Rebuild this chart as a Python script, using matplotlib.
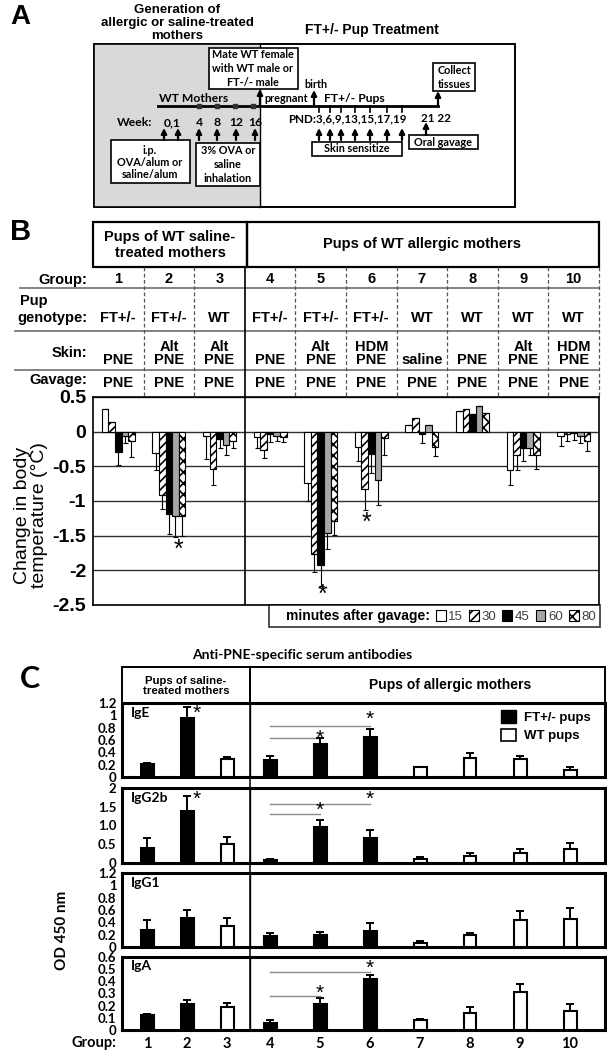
import matplotlib
matplotlib.use('Agg')
import matplotlib.pyplot as plt
import numpy as np
from matplotlib.patches import Rectangle, Patch
from matplotlib.transforms import blended_transform_factory

# ---------------- data ----------------
week_labels = ['0,1', '4', '8', '12', '16']
pnd_text = 'PND:3,6,9,13,15,17,19'
groups = ['1', '2', '3', '4', '5', '6', '7', '8', '9', '10']
genotype = ['FT+/-', 'FT+/-', 'WT', 'FT+/-', 'FT+/-', 'FT+/-', 'WT', 'WT', 'WT', 'WT']
skin = ['PNE', 'Alt\nPNE', 'Alt\nPNE', 'PNE', 'Alt\nPNE', 'HDM\nPNE', 'saline', 'PNE', 'Alt\nPNE', 'HDM\nPNE']
gavage = ['PNE'] * 10
minutes = ['15', '30', '45', '60', '80']

# change in body temperature (deg C) per group, for each time after gavage
temp_15 = [0.33, -0.31, -0.06, -0.07, -0.74, -0.22, 0.10, 0.30, -0.55, -0.06]
temp_30 = [0.14, -0.91, -0.54, -0.26, -1.77, -0.83, 0.20, 0.33, -0.33, -0.03]
temp_45 = [-0.30, -1.19, -0.10, -0.03, -1.93, -0.32, -0.03, 0.25, -0.23, -0.02]
temp_60 = [-0.06, -1.22, -0.19, -0.06, -1.46, -0.69, 0.09, 0.37, -0.23, -0.06]
temp_80 = [-0.14, -1.21, -0.13, -0.07, -1.29, -0.09, -0.22, 0.27, -0.33, -0.13]
err_15 = [0.00, 0.24, 0.34, 0.16, 0.26, 0.20, 0.00, 0.00, 0.22, 0.14]
err_30 = [0.00, 0.21, 0.23, 0.12, 0.26, 0.30, 0.00, 0.00, 0.22, 0.10]
err_45 = [0.18, 0.28, 0.13, 0.12, 0.30, 0.28, 0.13, 0.00, 0.19, 0.10]
err_60 = [0.10, 0.30, 0.14, 0.08, 0.23, 0.37, 0.00, 0.00, 0.10, 0.10]
err_80 = [0.22, 0.29, 0.10, 0.08, 0.20, 0.24, 0.13, 0.00, 0.21, 0.15]
temp_star_groups = [2, 5, 6]
temp_star_y = [-1.70, -2.35, -1.32]
temp_ticks = [0.5, 0, -0.5, -1, -1.5, -2, -2.5]

# anti-PNE serum antibodies (OD 450 nm)
ige = [0.21, 0.96, 0.29, 0.28, 0.53, 0.65, 0.16, 0.31, 0.29, 0.11]
ige_err = [0.02, 0.17, 0.04, 0.06, 0.10, 0.13, 0.01, 0.08, 0.05, 0.05]
igg2b = [0.40, 1.39, 0.51, 0.08, 0.96, 0.67, 0.10, 0.19, 0.27, 0.37]
igg2b_err = [0.27, 0.40, 0.19, 0.03, 0.19, 0.21, 0.07, 0.08, 0.10, 0.16]
igg1 = [0.27, 0.47, 0.34, 0.18, 0.19, 0.26, 0.07, 0.20, 0.44, 0.46]
igg1_err = [0.16, 0.13, 0.13, 0.04, 0.06, 0.13, 0.03, 0.03, 0.15, 0.18]
iga = [0.12, 0.21, 0.19, 0.06, 0.21, 0.42, 0.08, 0.14, 0.31, 0.16]
iga_err = [0.01, 0.04, 0.03, 0.02, 0.05, 0.03, 0.01, 0.05, 0.07, 0.05]
ige_ticks = [0, 0.2, 0.4, 0.6, 0.8, 1, 1.2]
ige_ticklabels = ['0', '0.2', '0.4', '0.6', '0.8', '1', '1.2']
igg2b_ticks = [0, 0.5, 1.0, 1.5, 2]
igg2b_ticklabels = ['0', '0.5', '1.0', '1.5', '2']
iga_ticks = [0, 0.1, 0.2, 0.3, 0.4, 0.5, 0.6]
iga_ticklabels = ['0', '0.1', '0.2', '0.3', '0.4', '0.5', '0.6']
# significance: (end group, line level, star level); start group is 4
ige_sig = [(5, 0.63, 0.62), (6, 0.83, 0.93)]
igg2b_sig = [(5, 1.31, 1.40), (6, 1.57, 1.70)]
iga_sig = [(5, 0.28, 0.30), (6, 0.48, 0.51)]
ige_star2 = 1.04
igg2b_star2 = 1.70

# ---------------- layout ----------------
W, H = 607, 1050
ARIAL = 'Liberation Sans'
CAL = 'Lato'
plt.rcParams['hatch.linewidth'] = 1.2

fig = plt.figure(figsize=(W / 100, H / 100), dpi=100)


def px_rect(x0, y0, x1, y1):
    return [x0 / W, 1 - y1 / H, (x1 - x0) / W, (y1 - y0) / H]


# ================= Panel B chart =================
axB = fig.add_axes(px_rect(93, 397, 599, 605))
axB.set_xlim(0.5, 10.5)
axB.set_ylim(-2.5, 0.5)
temps = [temp_15, temp_30, temp_45, temp_60, temp_80]
errs = [err_15, err_30, err_45, err_60, err_80]
styles = [dict(color='white', edgecolor='black'),
          dict(color='white', edgecolor='black', hatch='////'),
          dict(color='black', edgecolor='black'),
          dict(color='#a6a6a6', edgecolor='black'),
          dict(color='white', edgecolor='black', hatch='xxx')]
xg = np.arange(1, 11)
bw = 0.13
for yv in temp_ticks:
    axB.axhline(yv, color='#303030', lw=1.0, zorder=1)
axB.axvline(3.5, color='black', lw=1.2, zorder=1)
for k in range(5):
    v = np.array(temps[k])
    e = np.array(errs[k])
    x = xg + (k - 2) * bw
    axB.bar(x, v, width=bw, linewidth=0.8, zorder=3, **styles[k])
    lo = np.where(v < 0, e, 0)
    hi = np.where(v >= 0, e, 0)
    axB.errorbar(x, v, yerr=[lo, hi], fmt='none', ecolor='black',
                 elinewidth=0.8, capsize=1.8, capthick=0.8, zorder=4)
star_off = {2: 0.18, 5: 0.03, 6: -0.1}
for g, ys in zip(temp_star_groups, temp_star_y):
    axB.text(g + star_off[g], ys, '*', ha='center', va='center',
             fontsize=18, family=ARIAL)
axB.set_yticks(temp_ticks)
axB.set_yticklabels([f'{t:g}' for t in temp_ticks], fontsize=14,
                    fontweight='bold', family=ARIAL)
axB.tick_params(axis='y', length=0, pad=5)
axB.set_xticks([])
for s in axB.spines.values():
    s.set_linewidth(1.2)

handles = [Patch(visible=False)] + [Patch(facecolor=st['color'], edgecolor='black',
                                          hatch=st.get('hatch'), lw=0.8) for st in styles]
leg = fig.legend(handles, ['minutes after gavage:'] + minutes, ncol=6,
                 loc='upper right', bbox_to_anchor=(600 / W, 1 - 605 / H),
                 frameon=True, fancybox=False, handlelength=0.75, handleheight=0.85,
                 handletextpad=0.2, columnspacing=0.45, borderpad=0.3,
                 borderaxespad=0, prop={'family': ARIAL, 'size': 9.5})
leg.get_frame().set_edgecolor('black')
leg.get_frame().set_linewidth(1.2)
for i, t in enumerate(leg.get_texts()):
    if i == 0:
        t.set_fontweight('bold')
        t.set_fontsize(10)
    else:
        t.set_color('#404040')

fig.text(31 / W, 1 - 515 / H, 'Change in body\ntemperature (°C)', rotation=90,
         ha='center', va='center', fontsize=14, family=ARIAL, linespacing=1.0)

# ================= Panel C =================
c_rows = [
    (ige, ige_err, 'IgE', 1.2, ige_ticks, ige_ticklabels, 703, 777, ige_sig, ige_star2),
    (igg2b, igg2b_err, 'IgG2b', 2.0, igg2b_ticks, igg2b_ticklabels, 788, 863, igg2b_sig, igg2b_star2),
    (igg1, igg1_err, 'IgG1', 1.2, ige_ticks, ige_ticklabels, 873, 947, [], None),
    (iga, iga_err, 'IgA', 0.6, iga_ticks, iga_ticklabels, 957, 1030, iga_sig, None),
]
bar_colors = ['black' if g == 'FT+/-' else 'white' for g in genotype]
xpos = np.arange(1, 11)
for ri, (vals, verr, name, ymax, ticks, tlabels, top, bot, sig, star2) in enumerate(c_rows):
    axL = fig.add_axes(px_rect(122, top, 250, bot))
    axR = fig.add_axes(px_rect(250, top, 605, bot))
    axL.set_xlim(0.375, 3.575)
    axR.set_xlim(3.6, 10.7)
    for ax, sl, wbar in ((axL, slice(0, 3), 13 / 40), (axR, slice(3, 10), 13 / 50)):
        ax.set_facecolor('none')
        ax.set_ylim(0, ymax)
        xv = xpos[sl]
        vv = np.array(vals[sl])
        ee = np.array(verr[sl])
        ax.bar(xv, vv, width=wbar, color=bar_colors[sl], edgecolor='black',
               linewidth=1.5, zorder=3)
        ax.errorbar(xv, vv, yerr=[np.zeros_like(ee), ee], fmt='none', ecolor='black',
                    elinewidth=1.4, capsize=3.2, capthick=1.4, zorder=2)
        ax.tick_params(length=0)
        for s in ax.spines.values():
            s.set_linewidth(2.2)
        ax.set_xticks([])
    axL.spines['right'].set_linewidth(1.0)
    axR.spines['left'].set_visible(False)
    axR.set_yticks([])
    axL.set_yticks(ticks)
    axL.set_yticklabels(tlabels, fontsize=9.5, fontweight='bold', family=CAL)
    axL.tick_params(axis='y', pad=4)
    axL.text(0.07, 0.87, name, transform=axL.transAxes, ha='left', va='center',
             fontsize=10, fontweight='bold', family=CAL)
    for (g_end, ly, sy) in sig:
        axR.plot([4, g_end], [ly, ly], color='#8c8c8c', lw=1.0, zorder=1)
        axR.text(g_end, sy, '*', ha='center', va='center', fontsize=15, family=ARIAL)
    if star2 is not None:
        axL.text(2.24, star2, '*', ha='center', va='center', fontsize=15, family=ARIAL)
    if ri == 0:
        lg = axR.legend([Patch(facecolor='black', edgecolor='black'),
                         Patch(facecolor='white', edgecolor='black', lw=1.2)],
                        ['FT+/- pups', 'WT pups'], loc='upper left',
                        bbox_to_anchor=(492 / W, 1 - 701 / H),
                        bbox_transform=fig.transFigure, frameon=False,
                        handlelength=1.1, handleheight=1.1, labelspacing=0.35,
                        handletextpad=0.6, borderpad=0.2,
                        prop={'family': ARIAL, 'size': 9.5, 'weight': 'bold'})
    if ri == 3:
        for ax, sl in ((axL, slice(0, 3)), (axR, slice(3, 10))):
            ax.set_xticks(xpos[sl])
            ax.set_xticklabels(groups[sl], fontsize=10.5, fontweight='bold', family=CAL)
            ax.tick_params(axis='x', length=0, pad=5)

fig.text(62 / W, 1 - 930 / H, 'OD 450 nm', rotation=90, ha='center', va='center',
         fontsize=11, fontweight='bold', family=CAL)
fig.text(116 / W, 1 - 1043 / H, 'Group:', ha='right', va='center',
         fontsize=10.5, fontweight='bold', family=CAL)

# ================= Overlay: panel A, table of B, headers of C =================
ov = fig.add_axes([0, 0, 1, 1])
ov.set_xlim(0, W)
ov.set_ylim(H, 0)
ov.axis('off')


def box(x0, y0, x1, y1, lw=1.2, fc='white', ec='black', z=2):
    ov.add_patch(Rectangle((x0, y0), x1 - x0, y1 - y0, facecolor=fc, edgecolor=ec,
                           lw=lw, zorder=z))


def arrow(x, y0, y1, lw=1.6):
    ov.annotate('', xy=(x, y1), xytext=(x, y0),
                arrowprops=dict(arrowstyle='-|>', lw=lw, color='black',
                                mutation_scale=8, shrinkA=0, shrinkB=0), zorder=4)


def txt(x, y, s, size=7.8, fam=CAL, ha='center', va='center', weight='bold', **kw):
    ov.text(x, y, s, fontsize=size, family=fam, ha=ha, va=va, fontweight=weight,
            zorder=5, **kw)


# ---- Panel A ----
txt(10, 17, 'A', size=20, fam=ARIAL, ha='left')
txt(177, 23, 'Generation of\nallergic or saline-treated\nmothers', size=9.5, fam=ARIAL,
    linespacing=1.12)
txt(372, 30, 'FT+/- Pup Treatment', size=10, fam=ARIAL)
box(94, 44, 515, 207, fc='white', z=1)
box(94, 44, 260, 207, fc='#d9d9d9', ec='none', lw=0, z=1)
ov.plot([260, 260], [44, 207], color='black', lw=1.0, zorder=1.5)
box(94, 44, 515, 207, fc='none', z=1.6)
box(209, 48, 298, 89)
txt(253, 55, 'Mate WT female')
txt(253, 68.5, 'with WT male or')
txt(253, 82, 'FT-/- male')
arrow(260, 106, 89)
ov.plot([158, 438], [106, 106], color='black', lw=2.0, zorder=3)
txt(159, 98, 'WT Mothers', size=8.7, ha='left')
txt(264, 99, 'pregnant', size=7.8, ha='left')
ov.plot([199, 217, 235, 253], [106] * 4, 's', color='#303030', ms=3, zorder=3)
txt(117, 123, 'Week:', size=8.7, ha='left')
for xw, lab in zip([172, 199, 217, 236, 255], week_labels):
    txt(xw, 123, lab, size=8.7)
for xa in [164, 178, 199, 217, 236, 255]:
    arrow(xa, 140, 128)
box(111, 140, 190, 183)
txt(150, 150, 'i.p.')
txt(150, 162.5, 'OVA/alum or')
txt(150, 175, 'saline/alum')
box(196, 143, 260, 186)
txt(228, 151, '3% OVA or')
txt(228, 165, 'saline')
txt(228, 179, 'inhalation')
txt(304, 84, 'birth', size=7.8, ha='left')
arrow(314, 106, 90)
txt(324, 98, 'FT+/- Pups', size=8.7, ha='left')
pnd_x = [319, 330, 341, 355, 370, 387, 402]
for xp in pnd_x:
    ov.plot([xp, xp], [106, 112], color='black', lw=1.2, zorder=3)
    arrow(xp, 140, 128)
txt(288, 119, pnd_text, size=8.4, ha='left')
txt(421, 119, '21 22', size=8.4, ha='left')
box(312, 142, 402, 156)
txt(357, 149, 'Skin sensitize')
box(409, 135, 478, 149)
txt(443, 142, 'Oral gavage')
arrow(426, 135, 122)
box(433, 63, 475, 91)
txt(454, 70, 'Collect')
txt(454, 84, 'tissues')
arrow(438, 106, 91)

# ---- Panel B table ----
txt(10, 232, 'B', size=21, fam=ARIAL, ha='left')
box(93, 222, 247, 267, lw=1.6, fc='none')
box(247, 222, 599, 267, lw=1.6, fc='none')
txt(170, 245, 'Pups of WT saline-\ntreated mothers', size=10.5, fam=ARIAL, linespacing=1.1)
txt(422, 244, 'Pups of WT allergic mothers', size=10.5, fam=ARIAL)
for yl, x0 in ((288, 20), (331, 15), (370, 15)):
    ov.plot([x0, 599], [yl, yl], color='#7a7a7a', lw=1.3, zorder=2)
tB = blended_transform_factory(axB.transData, ov.transData)
for i in range(10):
    xb = i + 1.5
    if xb == 3.5:
        ov.plot([xb, xb], [267, 397], color='black', lw=1.2, transform=tB, zorder=2)
    else:
        ov.plot([xb, xb], [267, 397], color='#555555', lw=0.9, ls=(0, (3, 2)),
                transform=tB, zorder=2)
for i in range(10):
    g = i + 1
    ov.text(g, 279, groups[i], transform=tB, ha='center', va='center', fontsize=10.5,
            family=ARIAL, fontweight='bold')
    ov.text(g, 318, genotype[i], transform=tB, ha='center', va='center', fontsize=10.5,
            family=ARIAL, fontweight='bold')
    ov.text(g, 367, skin[i], transform=tB, ha='center', va='bottom', fontsize=10.5,
            family=ARIAL, fontweight='bold', linespacing=0.95)
    ov.text(g, 383, gavage[i], transform=tB, ha='center', va='center', fontsize=10.5,
            family=ARIAL, fontweight='bold')
txt(87, 280, 'Group:', size=10.5, fam=ARIAL, ha='right')
txt(20, 301, 'Pup', size=10.5, fam=ARIAL, ha='left')
txt(87, 318, 'genotype:', size=10.5, fam=ARIAL, ha='right')
txt(87, 353, 'Skin:', size=10.5, fam=ARIAL, ha='right')
txt(87, 380, 'Gavage:', size=10.5, fam=ARIAL, ha='right')

# ---- Panel C headers ----
txt(20, 679, 'C', size=22, fam=CAL, ha='left')
txt(302, 655, 'Anti-PNE-specific serum antibodies', size=10, fam=CAL)
box(122, 667, 250, 703, lw=1.4, fc='none')
box(250, 667, 605, 703, lw=1.4, fc='none')
txt(186, 686, 'Pups of saline-\ntreated mothers', size=8.2, fam=ARIAL, linespacing=1.1)
txt(450, 685, 'Pups of allergic mothers', size=10, fam=ARIAL)
ov.plot([250, 250], [667, 1030], color='black', lw=1.1, zorder=3)

fig.savefig('out.png', dpi=100)
